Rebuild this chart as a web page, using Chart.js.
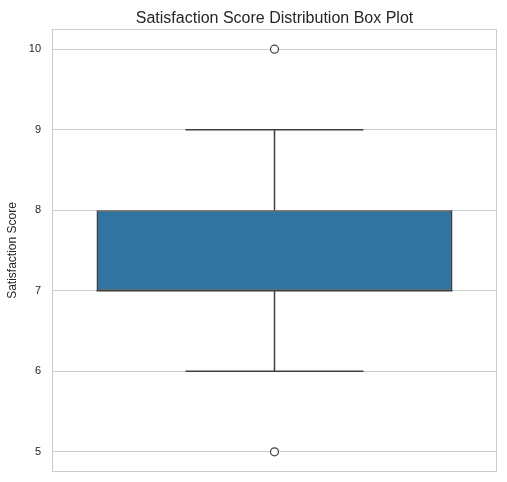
<!DOCTYPE html>
<html>
<head>
<meta charset="utf-8">
<script src="https://cdn.jsdelivr.net/npm/chart.js@4/dist/chart.umd.min.js"></script>
<style>
  html, body { margin: 0; padding: 0; background: #fff; overflow: hidden; }
  canvas { display: block; }
</style>
</head>
<body>
<canvas id="myChart" width="507" height="482"></canvas>
<script>
// box plot values
const categories = ["Satisfaction Score"];
const quartiles = [[7, 8]];      // q1, q3
const medians = [7];
const whiskers = [[6, 9]];       // low, high
const outliers = [5, 10];
const yTicks = [5, 6, 7, 8, 9, 10];
const TITLE = "Satisfaction Score Distribution Box Plot";

const EDGE = "#3f3f3f";
const GRID = "#cccccc";
const TEXT = "#262626";
const FONT = "'Liberation Sans', Arial, sans-serif";

// whiskers, caps and median go on top of the bar
const boxExtras = {
  id: "boxExtras",
  afterDatasetsDraw(chart) {
    const y = chart.scales.y;
    const meta = chart.getDatasetMeta(0);
    const c = chart.ctx;
    c.save();
    c.strokeStyle = EDGE;
    c.lineWidth = 1.5;
    meta.data.forEach((bar, i) => {
      const half = bar.width / 2;
      const capHalf = half / 2;
      const line = (x1, y1, x2, y2) => {
        c.beginPath();
        c.moveTo(x1, y1);
        c.lineTo(x2, y2);
        c.stroke();
      };
      const lo = y.getPixelForValue(whiskers[i][0]);
      const hi = y.getPixelForValue(whiskers[i][1]);
      const q1 = y.getPixelForValue(quartiles[i][0]);
      const q3 = y.getPixelForValue(quartiles[i][1]);
      const med = y.getPixelForValue(medians[i]);
      line(bar.x, q3, bar.x, hi);
      line(bar.x, q1, bar.x, lo);
      line(bar.x - capHalf, hi, bar.x + capHalf, hi);
      line(bar.x - capHalf, lo, bar.x + capHalf, lo);
      line(bar.x - half, med, bar.x + half, med);
    });
    c.restore();
  }
};

// light frame round the plot area, title centred over it
const frame = {
  id: "frame",
  beforeDatasetsDraw(chart) {
    const a = chart.chartArea;
    const c = chart.ctx;
    c.save();
    c.strokeStyle = GRID;
    c.lineWidth = 1;
    c.strokeRect(a.left + 0.5, a.top + 0.5, a.right - a.left - 1, a.bottom - a.top - 1);
    c.restore();
  },
  afterDraw(chart) {
    const a = chart.chartArea;
    const c = chart.ctx;
    c.save();
    c.fillStyle = TEXT;
    c.font = "16px " + FONT;
    c.textAlign = "center";
    c.textBaseline = "alphabetic";
    c.fillText(TITLE, (a.left + a.right) / 2, 22.5);
    c.restore();
  }
};

const data = {
  labels: categories,
  datasets: [
    {
      type: "bar",
      data: quartiles,
      backgroundColor: "#3274a1",
      borderColor: EDGE,
      borderWidth: 1.5,
      borderSkipped: false,
      barPercentage: 0.8,
      categoryPercentage: 1.0
    },
    {
      type: "line",
      data: outliers.map(v => ({ x: categories[0], y: v })),
      showLine: false,
      pointStyle: "circle",
      pointRadius: 4,
      pointBorderWidth: 1.2,
      pointBorderColor: EDGE,
      pointBackgroundColor: "#ffffff"
    }
  ]
};

const config = {
  type: "bar",
  data: data,
  plugins: [frame, boxExtras],
  options: {
    responsive: false,
    animation: false,
    devicePixelRatio: 1,
    layout: { padding: { left: 0, right: 10, top: 29, bottom: 10 } },
    plugins: {
      legend: { display: false },
      tooltip: { enabled: false },
      title: { display: false }
    },
    scales: {
      x: {
        display: false
      },
      y: {
        min: 4.75,
        max: 10.25,
        afterBuildTicks(scale) { scale.ticks = yTicks.map(v => ({ value: v })); },
        afterFit(scale) {
          scale.width = 52;
          scale.paddingTop = 0;
          scale.paddingBottom = 0;
        },
        ticks: {
          color: TEXT,
          padding: 11,
          font: { family: FONT, size: 11 }
        },
        grid: { color: GRID, lineWidth: 1, drawTicks: false },
        border: { display: false },
        title: {
          display: true,
          text: "Satisfaction Score",
          color: TEXT,
          font: { family: FONT, size: 12 },
          padding: { top: 5, bottom: 0 }
        }
      }
    }
  }
};

const chart = new Chart(document.querySelector("#myChart").getContext("2d"), config);
</script>
</body>
</html>
